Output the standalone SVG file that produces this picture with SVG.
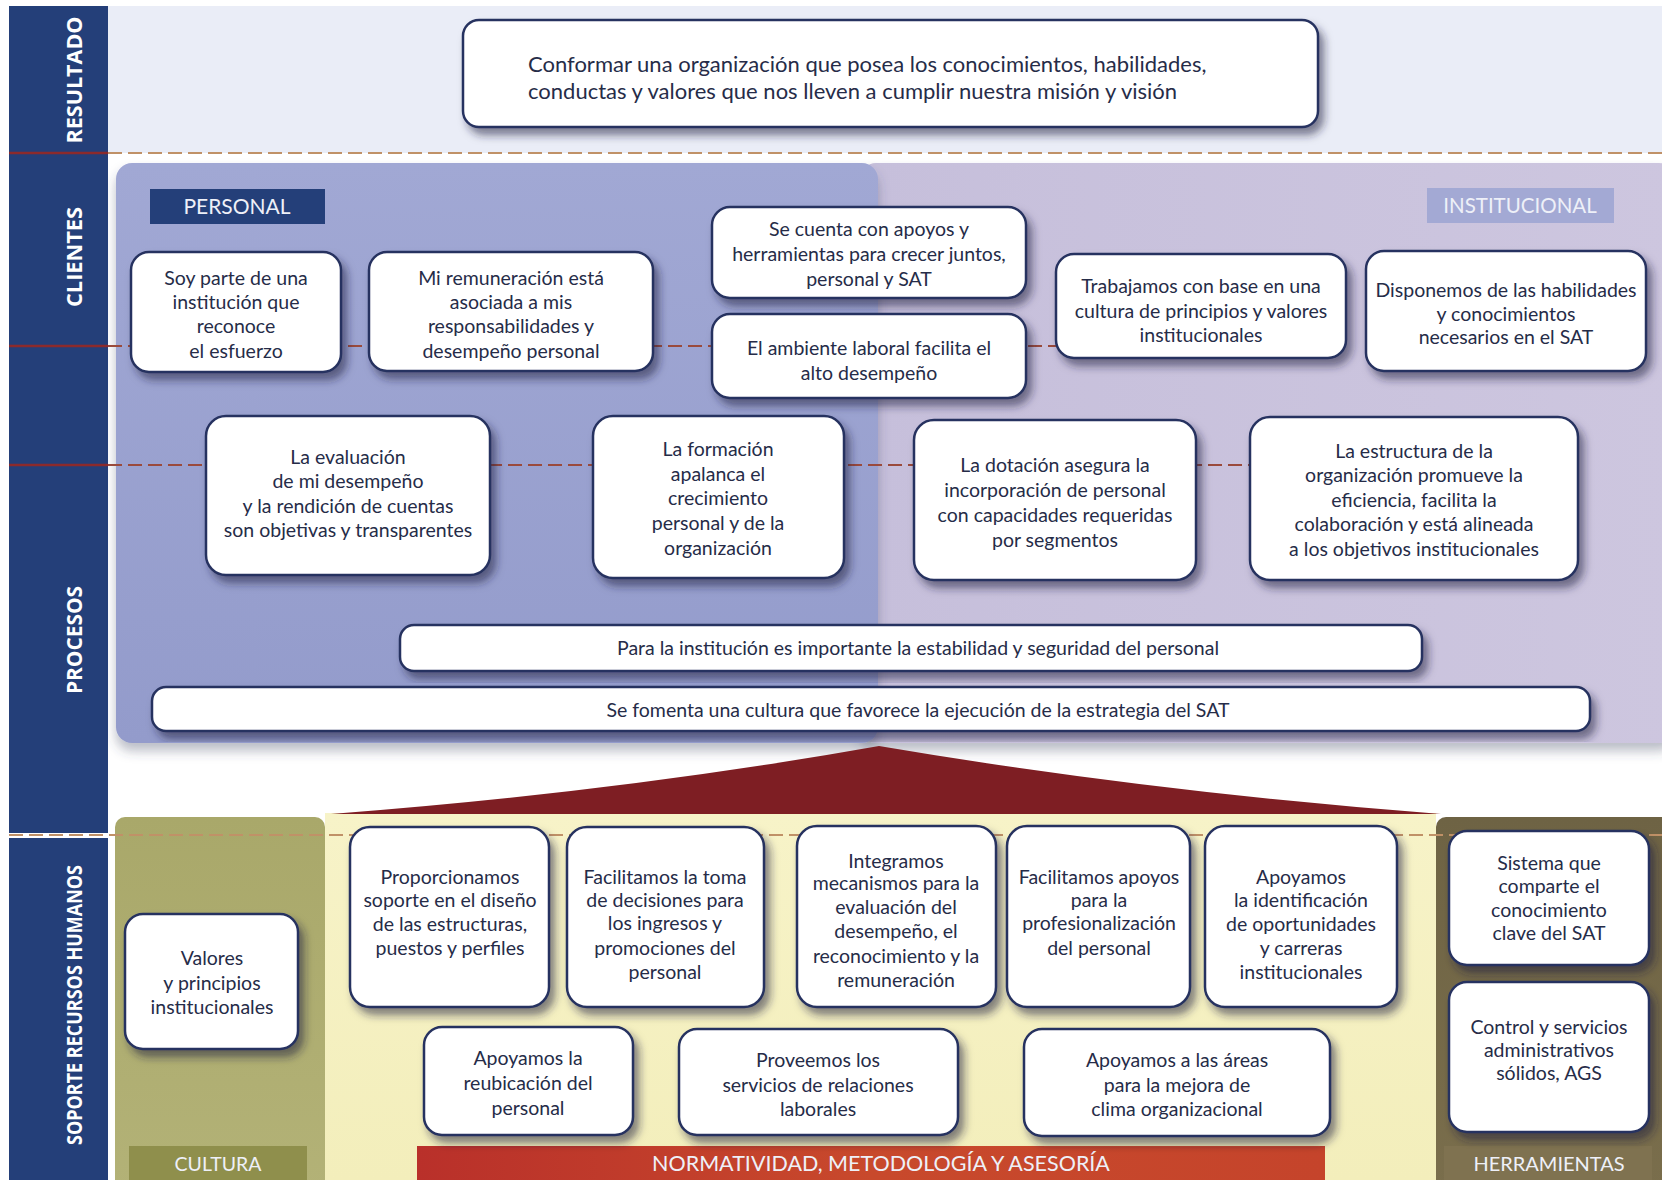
<svg xmlns="http://www.w3.org/2000/svg" width="1662" height="1180" viewBox="0 0 1662 1180">
<defs>
<filter id="sh" x="-10%" y="-10%" width="125%" height="135%">
<feDropShadow dx="5" dy="7" stdDeviation="4" flood-color="#1c2140" flood-opacity="0.55"/>
</filter>
<filter id="psh" x="-5%" y="-5%" width="110%" height="115%">
<feDropShadow dx="0" dy="8" stdDeviation="6" flood-color="#3a3f60" flood-opacity="0.35"/>
</filter>
<linearGradient id="gPers" x1="0" y1="0" x2="0" y2="1">
<stop offset="0" stop-color="#a1a8d4"/><stop offset="1" stop-color="#939bcb"/>
</linearGradient>
<linearGradient id="gInst" x1="0" y1="0" x2="1" y2="0">
<stop offset="0" stop-color="#c6bfdb"/><stop offset="1" stop-color="#cdc6df"/>
</linearGradient>
<linearGradient id="gCult" x1="0" y1="0" x2="0" y2="1">
<stop offset="0" stop-color="#a9a86a"/><stop offset="1" stop-color="#b3b277"/>
</linearGradient>
<linearGradient id="gYel" x1="0" y1="0" x2="0" y2="1">
<stop offset="0" stop-color="#f7f3c8"/><stop offset="1" stop-color="#f3eebb"/>
</linearGradient>
<linearGradient id="gHerr" x1="0" y1="0" x2="0" y2="1">
<stop offset="0" stop-color="#6e6344"/><stop offset="1" stop-color="#7a6e4c"/>
</linearGradient>
<linearGradient id="gNorm" x1="0" y1="0" x2="1" y2="0">
<stop offset="0" stop-color="#b9302a"/><stop offset="0.5" stop-color="#c8492c"/><stop offset="1" stop-color="#c5442b"/>
</linearGradient>
<style>
.box{fill:#ffffff;stroke:#283360;stroke-width:2.5;filter:url(#sh)}
.t{font-family:Lato,"Liberation Sans",sans-serif;font-size:19.5px;fill:#262c48;text-anchor:middle}
.big{font-family:Lato,"Liberation Sans",sans-serif;font-size:22px;fill:#262c48}
.side{font-family:"Open Sans","Liberation Sans",sans-serif;font-size:22px;font-weight:bold;fill:#ffffff;text-anchor:middle}
.lab{font-family:Lato,"Liberation Sans",sans-serif;font-size:20px;fill:#eef0f8;text-anchor:middle}
.dash1{stroke:#9a4a3c;stroke-width:2;stroke-dasharray:14 6;fill:none}
.dashT{stroke:#c09167;stroke-width:2;stroke-dasharray:14 6;fill:none}
.solid{stroke:#8b2a2c;stroke-width:2.5}
</style>
</defs>

<!-- background -->
<rect x="0" y="0" width="1662" height="1180" fill="#ffffff"/>
<rect x="108" y="6" width="1554" height="147" fill="#eaedf7"/>

<!-- sidebar -->
<g id="sidebar">
<rect x="9" y="6" width="99" height="827" fill="#243f79"/>
<rect x="9" y="838" width="99" height="342" fill="#243f79"/>
<text class="side" transform="translate(82,80) rotate(-90)" textLength="127" lengthAdjust="spacingAndGlyphs">RESULTADO</text>
<text class="side" transform="translate(82,257) rotate(-90)" textLength="100" lengthAdjust="spacingAndGlyphs">CLIENTES</text>
<text class="side" transform="translate(82,640) rotate(-90)" textLength="108" lengthAdjust="spacingAndGlyphs">PROCESOS</text>
<text class="side" transform="translate(82,1005) rotate(-90)" textLength="280" lengthAdjust="spacingAndGlyphs">SOPORTE RECURSOS HUMANOS</text>
</g>

<!-- panels -->
<g id="panel-institucional">
<rect x="860" y="163" width="815" height="580" rx="16" fill="url(#gInst)" filter="url(#psh)"/>
<rect x="1427" y="188" width="187" height="35" fill="#a3a9d4"/>
<text class="lab" x="1520" y="213" style="font-size:20.5px">INSTITUCIONAL</text>
</g>
<g id="panel-personal">
<rect x="116" y="163" width="762" height="580" rx="16" fill="url(#gPers)" filter="url(#psh)"/>
<rect x="150" y="189" width="175" height="35" fill="#243f79"/>
<text class="lab" x="237" y="214" style="font-size:21px">PERSONAL</text>
</g>

<g id="panel-cultura">
<rect x="115" y="817" width="210" height="380" rx="10" fill="url(#gCult)"/>
<rect x="129" y="1146" width="178" height="34" fill="#8f8f4c"/>
<text class="lab" x="218" y="1171" style="font-size:19.5px">CULTURA</text>
</g>
<g id="panel-normatividad">
<rect x="325" y="813" width="1111" height="367" fill="url(#gYel)"/>
<rect x="417" y="1146" width="908" height="34" fill="url(#gNorm)"/>
<text class="lab" x="881" y="1171" style="font-size:21.5px">NORMATIVIDAD, METODOLOGÍA Y ASESORÍA</text>
</g>
<g id="panel-herramientas">
<rect x="1436" y="817" width="240" height="380" rx="10" fill="url(#gHerr)"/>
<rect x="1444" y="1146" width="208" height="34" fill="#7f7250"/>
<text class="lab" x="1549" y="1171" style="font-size:20px">HERRAMIENTAS</text>
</g>

<g id="roof">
<path d="M331,814 Q620,792 879,746 Q1150,792 1441,814 Z" fill="#7e1e23"/>
</g>

<!-- connectors -->
<g id="connectors">
<line class="solid" x1="9" y1="153" x2="108" y2="153"/>
<line class="dashT" x1="108" y1="153" x2="1662" y2="153"/>
<line class="solid" x1="9" y1="346" x2="108" y2="346"/>
<line class="dash1" x1="108" y1="346" x2="1060" y2="346"/>
<line class="solid" x1="9" y1="465" x2="108" y2="465"/>
<line class="dash1" x1="108" y1="465" x2="1255" y2="465"/>
<line class="dashT" x1="9" y1="835" x2="1662" y2="835"/>
</g>

<!-- resultado -->
<g id="n-resultado">
<rect class="box" x="463" y="20" width="855" height="107" rx="16"/>
<text class="big" x="528" y="72">Conformar una organización que posea los conocimientos, habilidades,</text>
<text class="big" x="528" y="99">conductas y valores que nos lleven a cumplir nuestra misión y visión</text>
</g>

<!-- clientes -->
<g id="n-soy-parte">
<rect class="box" x="131" y="252" width="210" height="120" rx="18"/>
<text class="t" x="236" y="285">Soy parte de una</text>
<text class="t" x="236" y="309">institución que</text>
<text class="t" x="236" y="333">reconoce</text>
<text class="t" x="236" y="358">el esfuerzo</text>
</g>
<g id="n-remuneracion">
<rect class="box" x="369" y="252" width="284" height="119" rx="18"/>
<text class="t" x="511" y="285">Mi remuneración está</text>
<text class="t" x="511" y="309">asociada a mis</text>
<text class="t" x="511" y="333">responsabilidades y</text>
<text class="t" x="511" y="358">desempeño personal</text>
</g>
<g id="n-apoyos">
<rect class="box" x="712" y="207" width="314" height="91" rx="18"/>
<text class="t" x="869" y="236">Se cuenta con apoyos y</text>
<text class="t" x="869" y="261">herramientas para crecer juntos,</text>
<text class="t" x="869" y="286">personal y SAT</text>
</g>
<g id="n-ambiente">
<rect class="box" x="712" y="314" width="314" height="84" rx="18"/>
<text class="t" x="869" y="355">El ambiente laboral facilita el</text>
<text class="t" x="869" y="380">alto  desempeño</text>
</g>
<g id="n-trabajamos">
<rect class="box" x="1056" y="254" width="290" height="104" rx="18"/>
<text class="t" x="1201" y="293">Trabajamos con base en una</text>
<text class="t" x="1201" y="318">cultura de principios y valores</text>
<text class="t" x="1201" y="342">institucionales</text>
</g>
<g id="n-disponemos">
<rect class="box" x="1366" y="251" width="280" height="120" rx="18"/>
<text class="t" x="1506" y="297">Disponemos  de las habilidades</text>
<text class="t" x="1506" y="321">y conocimientos</text>
<text class="t" x="1506" y="344">necesarios en el SAT</text>
</g>

<!-- procesos -->
<g id="n-evaluacion">
<rect class="box" x="206" y="416" width="284" height="159" rx="20"/>
<text class="t" x="348" y="464">La evaluación</text>
<text class="t" x="348" y="488">de mi desempeño</text>
<text class="t" x="348" y="513">y la rendición de cuentas</text>
<text class="t" x="348" y="537">son objetivas y transparentes</text>
</g>
<g id="n-formacion">
<rect class="box" x="593" y="416" width="251" height="162" rx="20"/>
<text class="t" x="718" y="456">La formación</text>
<text class="t" x="718" y="481">apalanca el</text>
<text class="t" x="718" y="505">crecimiento</text>
<text class="t" x="718" y="530">personal y de la</text>
<text class="t" x="718" y="555">organización</text>
</g>
<g id="n-dotacion">
<rect class="box" x="914" y="420" width="282" height="160" rx="20"/>
<text class="t" x="1055" y="472">La dotación asegura la</text>
<text class="t" x="1055" y="497">incorporación de personal</text>
<text class="t" x="1055" y="522">con capacidades requeridas</text>
<text class="t" x="1055" y="547">por segmentos</text>
</g>
<g id="n-estructura">
<rect class="box" x="1250" y="417" width="328" height="163" rx="20"/>
<text class="t" x="1414" y="458">La estructura de la</text>
<text class="t" x="1414" y="482">organización promueve la</text>
<text class="t" x="1414" y="507">eficiencia, facilita la</text>
<text class="t" x="1414" y="531">colaboración y está alineada</text>
<text class="t" x="1414" y="556">a los objetivos institucionales</text>
</g>
<g id="n-estabilidad">
<rect class="box" x="400" y="625" width="1022" height="46" rx="14"/>
<text class="t" x="918" y="655">Para la institución es importante la estabilidad y seguridad del personal</text>
</g>
<g id="n-cultura-sat">
<rect class="box" x="152" y="687" width="1438" height="44" rx="14"/>
<text class="t" x="918" y="717">Se fomenta una cultura que favorece la ejecución de la estrategia del SAT</text>
</g>

<!-- soporte -->
<g id="n-valores">
<rect class="box" x="125" y="914" width="173" height="135" rx="18"/>
<text class="t" x="212" y="965">Valores</text>
<text class="t" x="212" y="990">y principios</text>
<text class="t" x="212" y="1014">institucionales</text>
</g>
<g id="n-proporcionamos">
<rect class="box" x="350" y="827" width="199" height="180" rx="20"/>
<text class="t" x="450" y="884">Proporcionamos</text>
<text class="t" x="450" y="907">soporte en el diseño</text>
<text class="t" x="450" y="931">de las estructuras,</text>
<text class="t" x="450" y="955">puestos y perfiles</text>
</g>
<g id="n-facilitamos-toma">
<rect class="box" x="567" y="827" width="197" height="180" rx="20"/>
<text class="t" x="665" y="884">Facilitamos la toma</text>
<text class="t" x="665" y="907">de decisiones para</text>
<text class="t" x="665" y="930">los ingresos  y</text>
<text class="t" x="665" y="955">promociones del</text>
<text class="t" x="665" y="979">personal</text>
</g>
<g id="n-integramos">
<rect class="box" x="797" y="826" width="199" height="181" rx="20"/>
<text class="t" x="896" y="868">Integramos</text>
<text class="t" x="896" y="890">mecanismos para la</text>
<text class="t" x="896" y="914">evaluación del</text>
<text class="t" x="896" y="938">desempeño, el</text>
<text class="t" x="896" y="963">reconocimiento y  la</text>
<text class="t" x="896" y="987">remuneración</text>
</g>
<g id="n-facilitamos-apoyos">
<rect class="box" x="1007" y="826" width="183" height="181" rx="20"/>
<text class="t" x="1099" y="884">Facilitamos apoyos</text>
<text class="t" x="1099" y="907">para la</text>
<text class="t" x="1099" y="930">profesionalización</text>
<text class="t" x="1099" y="955">del personal</text>
</g>
<g id="n-apoyamos-id">
<rect class="box" x="1205" y="826" width="192" height="181" rx="20"/>
<text class="t" x="1301" y="884">Apoyamos</text>
<text class="t" x="1301" y="907">la identificación</text>
<text class="t" x="1301" y="931">de oportunidades</text>
<text class="t" x="1301" y="955">y carreras</text>
<text class="t" x="1301" y="979">institucionales</text>
</g>
<g id="n-reubicacion">
<rect class="box" x="424" y="1027" width="209" height="108" rx="18"/>
<text class="t" x="528" y="1065">Apoyamos la</text>
<text class="t" x="528" y="1090">reubicación del</text>
<text class="t" x="528" y="1115">personal</text>
</g>
<g id="n-relaciones">
<rect class="box" x="679" y="1029" width="279" height="106" rx="18"/>
<text class="t" x="818" y="1067">Proveemos los</text>
<text class="t" x="818" y="1092">servicios de relaciones</text>
<text class="t" x="818" y="1116">laborales</text>
</g>
<g id="n-clima">
<rect class="box" x="1024" y="1029" width="306" height="107" rx="18"/>
<text class="t" x="1177" y="1067">Apoyamos a las áreas</text>
<text class="t" x="1177" y="1092">para la mejora de</text>
<text class="t" x="1177" y="1116">clima organizacional</text>
</g>
<g id="n-sistema">
<rect class="box" x="1449" y="831" width="200" height="134" rx="18"/>
<text class="t" x="1549" y="870">Sistema que</text>
<text class="t" x="1549" y="893">comparte el</text>
<text class="t" x="1549" y="917">conocimiento</text>
<text class="t" x="1549" y="940">clave del SAT</text>
</g>
<g id="n-control">
<rect class="box" x="1449" y="982" width="200" height="150" rx="18"/>
<text class="t" x="1549" y="1034">Control y servicios</text>
<text class="t" x="1549" y="1057">administrativos</text>
<text class="t" x="1549" y="1080">sólidos, AGS</text>
</g>
</svg>
